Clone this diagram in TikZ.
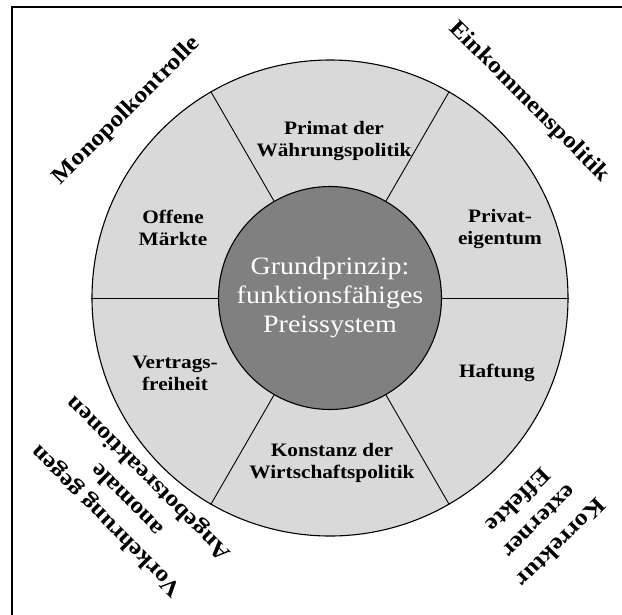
\documentclass[tikz,border=0pt]{standalone}
\usepackage{fontspec}
\setmainfont{Liberation Serif}[FakeStretch=1.12]
\definecolor{ringgray}{RGB}{217,217,217}
\definecolor{coregray}{RGB}{128,128,128}
\usetikzlibrary{positioning}

\begin{document}
\begin{tikzpicture}[x=1pt, y=-1pt,
  pillar/.style={font=\bfseries\fontsize{19}{22}\selectfont, align=center},
  aim/.style={font=\bfseries\fontsize{23}{30}\selectfont, align=center}]
  \clip (0,0) rectangle (622,614);
  % Frame, cut off at the right and bottom
  \draw[line width=1.5pt] (12,7) rectangle (660,660);

  % Ring of pillars and core
  \node[circle, draw, line width=1.1pt, fill=ringgray, minimum size=476pt] (ring) at (330,298) {};
  \node[circle, draw, line width=1.1pt, fill=coregray, minimum size=223pt, text=white, font=\fontsize{25}{29}\selectfont, align=center] (core) at (330,298) {Grundprinzip:\\funktionsfähiges\\Preissystem};
  \foreach \a in {0,60,...,300}
    \draw[line width=0.9pt] (core.\a) -- (ring.\a);

  % Pillars
  \node[pillar] (primat) at (334,141) {Primat der\\Währungspolitik};
  \node[pillar] (privat) at (500,229) {Privat-\\eigentum};
  \node[pillar] (haftung) at (497,373) {Haftung};
  \node[pillar] (konstanz) at (332,463) {Konstanz der\\Wirtschaftspolitik};
  \node[pillar] (vertrag) at (175,373) {Vertrags-\\freiheit};
  \node[pillar] (offen) at (173,228) {Offene\\Märkte};

  % Corrections outside the ring
  \node[aim, rotate=45] (monopol) at (127,111) {Monopolkontrolle};
  \node[aim, rotate=-45] (einkommen) at (529,102) {Einkommenspolitik};
  \node[aim, rotate=135] (vorkehrung) at (128,499) {Vorkehrung gegen\\anomale\\Angebotsreaktionen};
  \node[aim, rotate=225] (korrektur) at (540,522) {Korrektur\\externer\\Effekte};
\end{tikzpicture}
\end{document}
